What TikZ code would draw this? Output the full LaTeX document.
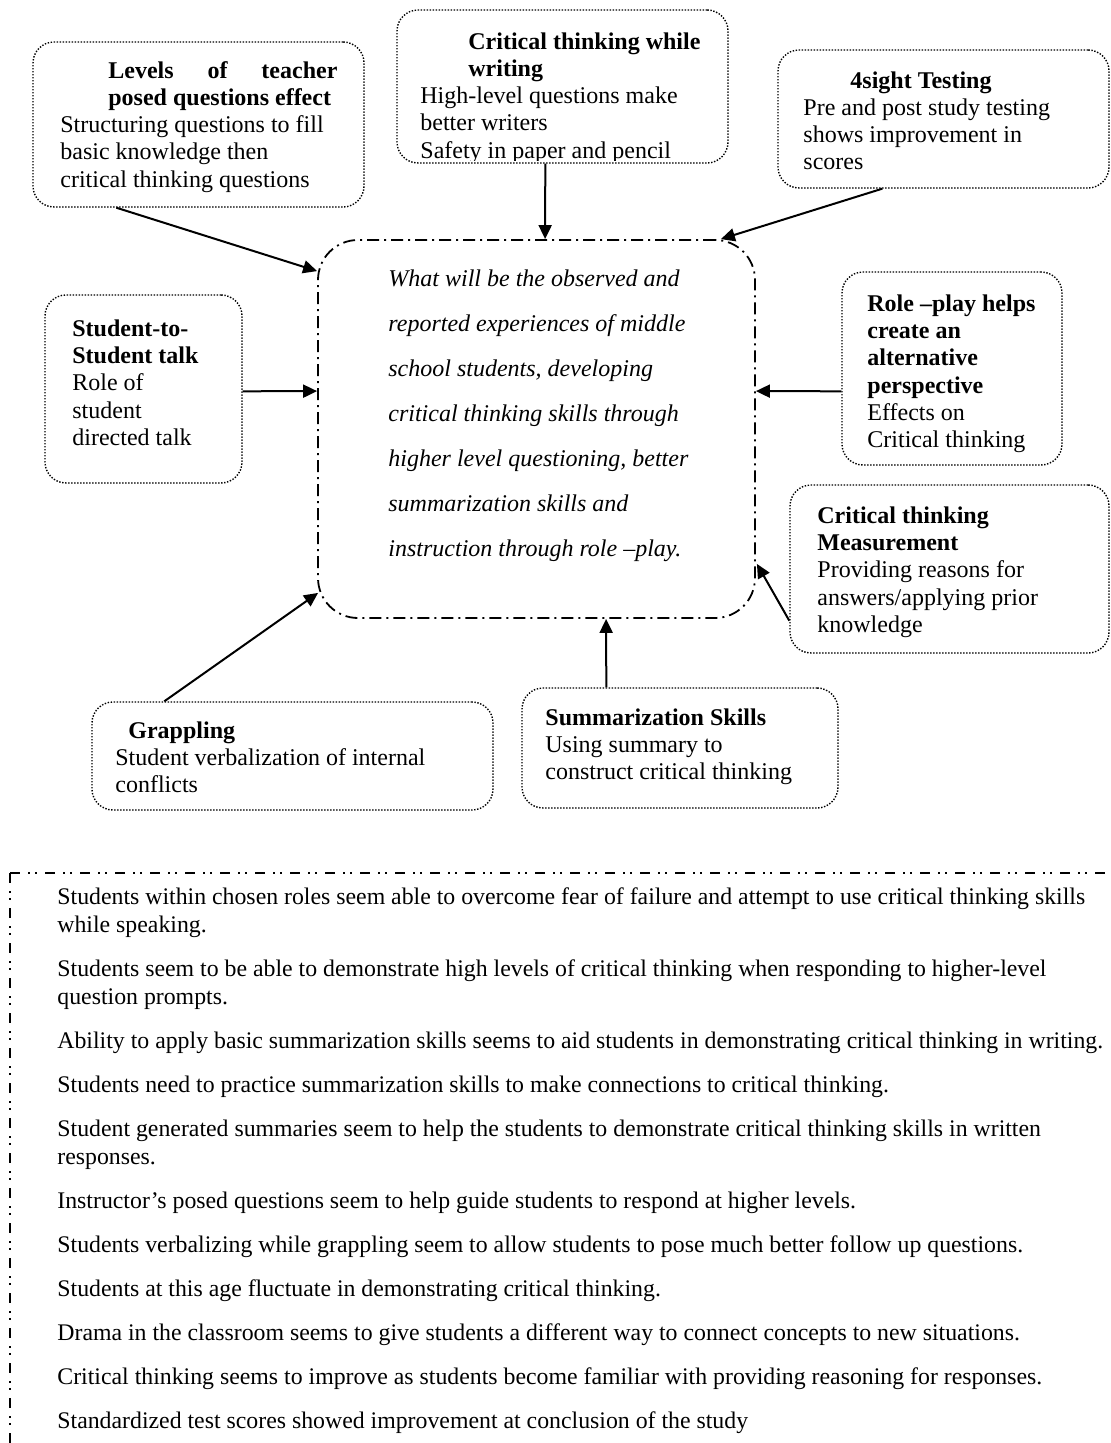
\documentclass[tikz,border=0pt]{standalone}
\usepackage{fontspec}
\setmainfont{Liberation Serif}
\usetikzlibrary{arrows.meta,calc,fit}
\newcommand\firstln{\rule{0pt}{9.5pt}}
\begin{document}
\begin{tikzpicture}[x=0.5pt,y=-0.5pt,
  tbox/.style={draw, rounded corners=10.5pt, line width=0.7pt, dash pattern=on 0.7pt off 0.8pt, inner sep=0pt},
  cbox/.style={draw, rounded corners=20pt, line width=0.9pt, dash pattern=on 6pt off 2.5pt on 1pt off 2.5pt, inner sep=0pt},
  txt/.style={anchor=north west, inner sep=0pt, align=left, font=\fontsize{12}{13.6}\selectfont},
  arr/.style={line width=1pt, -{Triangle[length=7pt,width=6.5pt]}},
  frameline/.style={line width=0.9pt, dash pattern=on 5pt off 4pt on 1pt off 2.5pt on 1pt off 4pt}]
\useasboundingbox (0,0) rectangle (1111,1443);

% boxes
\node[tbox, fit={(33,42) (364,207)}] (lev) {};
\node[tbox, fit={(397,10) (728,163)}] (wri) {};
\node[tbox, fit={(778,50) (1109,188)}] (four) {};
\node[cbox, fit={(318,240) (755,618)}] (ctr) {};
\node[tbox, fit={(45,295) (242,483)}] (stu) {};
\node[tbox, fit={(842,272) (1062,465)}] (rol) {};
\node[tbox, fit={(790,485) (1109,653)}] (mea) {};
\node[tbox, fit={(92,702) (493,810)}] (gra) {};
\node[tbox, fit={(522,688) (838,808)}] (sum) {};

% texts
\node[txt] (levt) at (60,59) {\firstln\hspace*{24pt}\makebox[114.5pt][s]{\textbf{Levels of teacher}}\\
  \hspace*{24pt}\textbf{posed questions effect}\\
  Structuring questions to fill\\ basic knowledge then\\ critical thinking questions};
\begin{scope}
\clip (397,10) rectangle (728,161);
\node[txt] (writ) at (420,30) {\firstln\hspace*{24pt}\textbf{Critical thinking while}\\
  \hspace*{24pt}\textbf{writing}\\
  High-level questions make\\ better writers\\ Safety in paper and pencil};
\end{scope}
\node[txt] (fourt) at (803,69) {\firstln\hspace*{23.5pt}\textbf{4sight Testing}\\
  Pre and post study testing\\ shows improvement in\\ scores};
\node[txt] (stut) at (72,317) {\firstln\textbf{Student-to-}\\ \textbf{Student talk}\\ Role of\\ student\\ directed talk};
\node[txt] (rolt) at (867,292) {\firstln\textbf{Role –play helps}\\ \textbf{create an}\\ \textbf{alternative}\\ \textbf{perspective}\\ Effects on\\ Critical thinking};
\node[txt] (meat) at (817,504) {\firstln\textbf{Critical thinking}\\ \textbf{Measurement}\\ Providing reasons for\\ answers/applying prior\\ knowledge};
\node[txt] (grat) at (115,719) {\firstln\hspace*{6.5pt}\textbf{Grappling}\\ Student verbalization of internal\\ conflicts};
\node[txt] (sumt) at (545,706) {\firstln\textbf{Summarization Skills}\\ Using summary to\\ construct critical thinking};
\node[txt, font=\itshape\fontsize{12}{22.5}\selectfont] (ctrt) at (388,267) {\firstln What will be the observed and\\
  reported experiences of middle\\ school students, developing\\ critical thinking skills through\\
  higher level questioning, better\\ summarization skills and\\ instruction through role –play.};

% connectors
\draw[arr] ($(lev.south west)+(84,0)$) -- ($(ctr.north west)+(0,32)$);
\draw[arr] ($(wri.south west)+(149,0)$) -- ($(ctr.north west)+(228,0)$);
\draw[arr] ($(four.south west)+(105,0)$) -- ($(ctr.north east)+(-35,0)$);
\draw[arr] ($(stu.north east)+(0,97)$) -- ($(ctr.north west)+(0,152)$);
\draw[arr] ($(rol.north west)+(0,120)$) -- ($(ctr.north east)+(0,152)$);
\draw[arr] ($(mea.south west)+(0,-33)$) -- ($(ctr.south east)+(1,-55)$);
\draw[arr] ($(sum.north west)+(85,0)$) -- ($(ctr.south west)+(289,0)$);
\draw[arr] ($(gra.north west)+(73,0)$) -- ($(ctr.south west)+(1,-26)$);

% bottom findings frame
\coordinate (fc) at (10,873);
\coordinate (fr) at (1111,873);
\coordinate (fb) at (10,1443);
\draw[frameline] (fc) -- (fr);
\draw[frameline] (fc) -- (fb);
\node[txt, font=\fontsize{11.9}{14}\selectfont] (list) at (57,885) {\firstln
Students within chosen roles seem able to overcome fear of failure and attempt to use critical thinking skills\\
while speaking.\\[8pt]
Students seem to be able to demonstrate high levels of critical thinking when responding to higher-level\\
question prompts.\\[8pt]
Ability to apply basic summarization skills seems to aid students in demonstrating critical thinking in writing.\\[8pt]
Students need to practice summarization skills to make connections to critical thinking.\\[8pt]
Student generated summaries seem to help the students to demonstrate critical thinking skills in written\\
responses.\\[8pt]
Instructor’s posed questions seem to help guide students to respond at higher levels.\\[8pt]
Students verbalizing while grappling seem to allow students to pose much better follow up questions.\\[8pt]
Students at this age fluctuate in demonstrating critical thinking.\\[8pt]
Drama in the classroom seems to give students a different way to connect concepts to new situations.\\[8pt]
Critical thinking seems to improve as students become familiar with providing reasoning for responses.\\[8pt]
Standardized test scores showed improvement at conclusion of the study};
\end{tikzpicture}
\end{document}
